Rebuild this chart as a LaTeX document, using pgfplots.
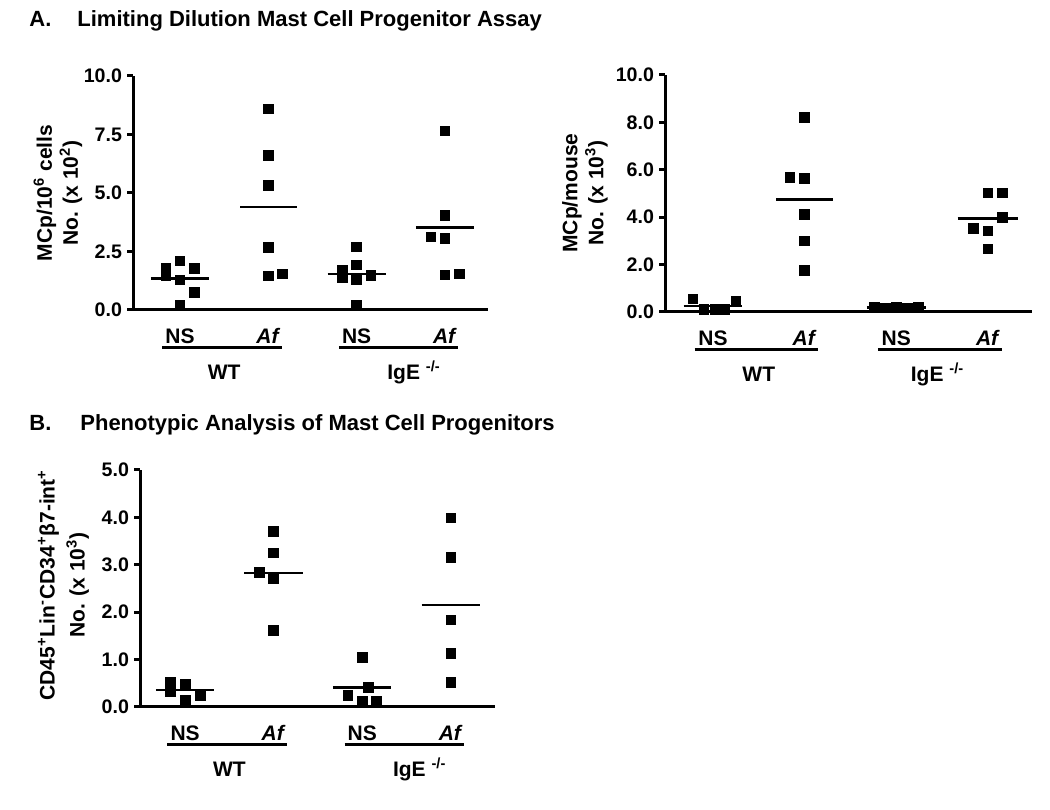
\documentclass[border=0pt]{standalone}
\usepackage{fontspec}
\setmainfont{Liberation Sans}
\usepackage{pgfplots}
\pgfplotsset{compat=1.18}

\pgfplotsset{
 gp/.style={
  scale only axis,
  axis x line=bottom, axis y line=left,
  axis line style={-, line width=1.5pt, black},
  ymin=0,
  xtick={1,2,3,4},
  xticklabels={NS,\textit{Af},NS,\textit{Af}},
  x tick style={draw=none},
  y tick style={line width=1.5pt, black},
  tick align=outside,
  major tick length=3pt,
  yticklabel style={font=\bfseries\fontsize{9.8}{11}\selectfont, xshift=1pt},
  xticklabel style={font=\bfseries\fontsize{10.5}{12}\selectfont, text height=7.6pt, text depth=0pt, yshift=-2.5pt},
  /pgf/number format/fixed,
  /pgf/number format/fixed zerofill,
  /pgf/number format/precision=1,
  /pgf/number format/assume math mode=true,
  clip=false,
 },
 pts/.style={only marks, mark=square*, mark size=2.4pt, black, mark options={solid, fill=black}},
 mean/.style={no marks, black, line width=1.2pt},
}
\newcommand{\groups}[1]{%
 \draw[line width=1.5pt] ([yshift=-19pt]axis cs:0.8,0) -- ([yshift=-19pt]axis cs:2.15,0);
 \draw[line width=1.5pt] ([yshift=-19pt]axis cs:2.8,0) -- ([yshift=-19pt]axis cs:4.15,0);
 \node[font=\bfseries\fontsize{10.5}{12}\selectfont] at ([yshift=-31pt]axis cs:1.5,0) {WT};
 \node[font=\bfseries\fontsize{10.5}{12}\selectfont] at ([yshift=-31pt]axis cs:#1,0) {IgE \textsuperscript{-/-}};
}

\begin{document}
\begin{tikzpicture}
\path[use as bounding box] (0,0) rectangle (525pt,404.5pt);

% Titles
\node[anchor=base west, font=\bfseries\fontsize{11}{13}\selectfont, inner sep=0pt] at (14.5pt,391pt) {A.};
\node[anchor=base west, font=\bfseries\fontsize{11}{13}\selectfont, inner sep=0pt] at (38.5pt,391pt) {Limiting Dilution Mast Cell Progenitor Assay};
\node[anchor=base west, font=\bfseries\fontsize{11}{13}\selectfont, inner sep=0pt] at (14.5pt,189pt) {B.};
\node[anchor=base west, font=\bfseries\fontsize{11}{13}\selectfont, inner sep=0pt] at (40pt,189pt) {Phenotypic Analysis of Mast Cell Progenitors};

% Y labels
\node[rotate=90, align=center, font=\bfseries\fontsize{10.5}{13}\selectfont] at (29pt,308pt) {MCp/10\textsuperscript{6} cells\\No. (x 10\textsuperscript{2})};
\node[rotate=90, align=center, font=\bfseries\fontsize{10.5}{13}\selectfont] at (292.5pt,308pt) {MCp/mouse\\No. (x 10\textsuperscript{3})};
\node[rotate=90, align=center, font=\bfseries\fontsize{10.5}{13}\selectfont] at (31.75pt,112pt) {CD45\textsuperscript{+}Lin\textsuperscript{-}CD34\textsuperscript{+}β7-int\textsuperscript{+}\\[2pt]No. (x 10\textsuperscript{3})};

% Panel A left
\begin{axis}[gp, at={(66.5pt,249.5pt)}, anchor=south west, width=177.5pt, height=117pt,
  xmin=0.468, xmax=4.487, ymax=10, ytick={0,2.5,5,7.5,10}]
 \addplot[pts] coordinates {(0.84,1.78) (0.84,1.45) (1,2.09) (1,1.28) (1.16,1.78) (1.16,0.75) (1,0.21)};
 \addplot[pts] coordinates {(2,8.6) (2,6.61) (2,5.33) (2,2.67) (2,1.45) (2.16,1.54)};
 \addplot[pts] coordinates {(3,2.70) (3,1.92) (2.84,1.71) (2.84,1.37) (3,1.28) (3.16,1.47) (3,0.21)};
 \addplot[pts] coordinates {(4,7.66) (4,4.03) (3.84,3.13) (4,3.06) (4,1.50) (4.16,1.54)};
 \addplot[mean] coordinates {(0.67,1.35) (1.33,1.35)};
 \addplot[mean] coordinates {(1.68,4.41) (2.32,4.41)};
 \addplot[mean] coordinates {(2.67,1.54) (3.33,1.54)};
 \addplot[mean] coordinates {(3.67,3.52) (4.33,3.52)};
 \groups{3.65}
\end{axis}

% Panel A right
\begin{axis}[gp, at={(332.5pt,248.5pt)}, anchor=south west, width=183.5pt, height=118.5pt,
  xmin=0.477, xmax=4.48, ymax=10, ytick={0,2,4,6,8,10}]
 \addplot[pts] coordinates {(0.78,0.55) (0.9,0.12) (1.02,0.10) (1.13,0.12) (1.25,0.45)};
 \addplot[pts] coordinates {(2,8.21) (1.84,5.68) (2,5.63) (2,4.13) (2,3.0) (2,1.76)};
 \addplot[pts] coordinates {(2.76,0.2) (2.88,0.18) (3,0.2) (3.12,0.18) (3.24,0.2)};
 \addplot[pts] coordinates {(4,5.03) (4.16,5.03) (4.16,3.98) (3.84,3.53) (4,3.43) (4,2.67)};
 \addplot[mean] coordinates {(0.68,0.25) (1.32,0.25)};
 \addplot[mean] coordinates {(1.69,4.75) (2.31,4.75)};
 \addplot[mean] coordinates {(2.68,0.19) (3.32,0.19)};
 \addplot[mean] coordinates {(3.67,3.95) (4.33,3.95)};
 \groups{3.45}
\end{axis}

% Panel B
\begin{axis}[gp, at={(70pt,51pt)}, anchor=south west, width=177.5pt, height=118.5pt,
  xmin=0.49, xmax=4.5, ymax=5, ytick={0,1,2,3,4,5}]
 \addplot[pts] coordinates {(0.83,0.53) (0.83,0.32) (1,0.49) (1,0.14) (1.17,0.23)};
 \addplot[pts] coordinates {(2,3.71) (2,3.25) (1.84,2.84) (2,2.70) (2,1.62)};
 \addplot[pts] coordinates {(3,1.05) (3.07,0.41) (2.84,0.25) (3,0.13) (3.16,0.13)};
 \addplot[pts] coordinates {(4,3.99) (4,3.16) (4,1.84) (4,1.13) (4,0.52)};
 \addplot[mean] coordinates {(0.67,0.36) (1.33,0.36)};
 \addplot[mean] coordinates {(1.67,2.83) (2.33,2.83)};
 \addplot[mean] coordinates {(2.67,0.41) (3.33,0.41)};
 \addplot[mean] coordinates {(3.67,2.15) (4.33,2.15)};
 \groups{3.65}
\end{axis}
\end{tikzpicture}
\end{document}
